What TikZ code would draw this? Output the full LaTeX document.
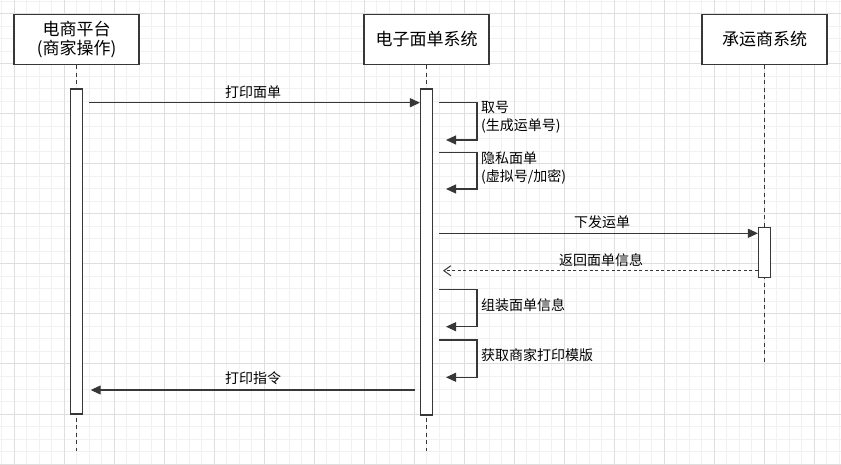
\documentclass[tikz,border=0pt]{standalone}
\usepackage{fontspec}
\setmainfont{Noto Sans CJK SC}
\definecolor{grid_minor}{RGB}{241, 241, 241}
\definecolor{grid_major}{RGB}{222, 222, 222}
\definecolor{seq_line}{RGB}{55, 55, 55}
\usepackage{tikz}
\usetikzlibrary{arrows.meta, positioning}

\begin{document}
\begin{tikzpicture}[x=1bp, y=-1bp,
    actor/.style={draw=seq_line, line width=1.2bp, fill=white, minimum width=125bp, minimum height=50bp,
                  inner sep=0pt, align=center, font=\fontsize{17bp}{19.5bp}\selectfont},
    bar/.style={draw=seq_line, line width=1.1bp, fill=white, minimum width=12bp, inner sep=0pt},
    lifeline/.style={draw=seq_line, line width=1.1bp, dash pattern=on 4bp off 3.5bp},
    msg/.style={draw=seq_line, line width=1.1bp, -{Triangle[length=10bp, width=9bp]}},
    reply/.style={draw=seq_line, line width=1bp, dash pattern=on 3bp off 2.5bp, -{Straight Barb[length=7bp, width=10bp]}},
    lbl/.style={inner sep=0pt, align=left, font=\fontsize{14bp}{18.7bp}\selectfont}]
          \useasboundingbox (0,0) rectangle (841,465);
          \fill[white] (0,0) rectangle (841,465);
          % grid
          \foreach \gx in {0,...,67} \draw[grid_minor, line width=1bp] (1.5+12.5*\gx, 0) -- (1.5+12.5*\gx, 465);
          \foreach \gy in {0,...,37} \draw[grid_minor, line width=1bp] (0, 1.5+12.5*\gy) -- (841, 1.5+12.5*\gy);
          \foreach \gx in {14,64,...,814} \draw[grid_major, line width=1bp] (\gx, 0) -- (\gx, 465);
          \foreach \gy in {14,64,...,464} \draw[grid_major, line width=1bp] (0, \gy) -- (841, \gy);

          % participants
          \node[actor] (plat) at (76.5, 39.5)  {电商平台\\(商家操作)};
          \node[actor] (esys) at (426.5, 39.5) {电子面单系统};
          \node[actor] (carr) at (764.5, 39.5) {承运商系统};

          \coordinate (plat_end) at (76.5, 451);
          \coordinate (esys_end) at (426.5, 451);
          \coordinate (carr_end) at (764.5, 362);
          \draw[lifeline] (plat.south) -- (plat_end);
          \draw[lifeline] (esys.south) -- (esys_end);
          \draw[lifeline] (carr.south) -- (carr_end);

          \node[bar, minimum height=325bp] (act1) at (76.5, 251.5) {};
          \node[bar, minimum height=326bp] (act2) at (426.5, 252)  {};
          \node[bar, minimum height=50.5bp] (act3) at (764.5, 252.5) {};

          % messages
          \coordinate (m1s) at (89, 102.7);
          \draw[msg] (m1s) -- (m1s -| act2.west);
          \node[lbl] (m1t) at (253, 92) {打印面单};

          \coordinate (s1) at (439, 102.5);
          \draw[msg] (s1) -- ++(38,0) -- ++(0,37.5) -- ++(-31,0);
          \node[lbl, anchor=west] (s1t) at (481, 117.3) {取号\\(生成运单号)};

          \coordinate (s2) at (439, 152.3);
          \draw[msg] (s2) -- ++(38,0) -- ++(0,36.7) -- ++(-31,0);
          \node[lbl, anchor=west] (s2t) at (481, 168) {隐私面单\\(虚拟号/加密)};

          \coordinate (m4s) at (439, 233.3);
          \draw[msg] (m4s) -- (m4s -| act3.west);
          \node[lbl] (m4t) at (602, 222) {下发运单};

          \coordinate (m5e) at (443, 270.7);
          \draw[reply] (m5e -| act3.west) -- (m5e);
          \node[lbl] (m5t) at (601, 260) {返回面单信息};

          \coordinate (s3) at (439, 289.3);
          \draw[msg] (s3) -- ++(38,0) -- ++(0,37.4) -- ++(-31,0);
          \node[lbl, anchor=west] (s3t) at (481, 305) {组装面单信息};

          \coordinate (s4) at (439, 340);
          \draw[msg] (s4) -- ++(38,0) -- ++(0,37.3) -- ++(-31,0);
          \node[lbl, anchor=west] (s4t) at (481, 355) {获取商家打印模版};

          \coordinate (m8s) at (415, 390);
          \coordinate (m8e) at (90.7, 390);
          \draw[msg] (m8s) -- (m8e);
          \node[lbl] (m8t) at (253, 378) {打印指令};
        \end{tikzpicture}
\end{document}
